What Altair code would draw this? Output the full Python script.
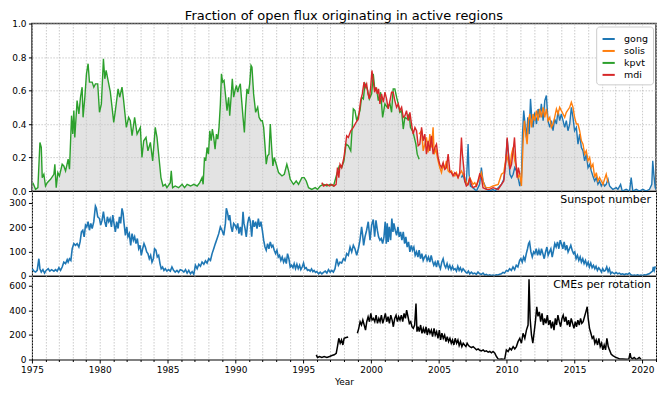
import altair as alt
import pandas as pd

# ---------------- data ----------------
SERIES = ["gong", "solis", "kpvt", "mdi"]
COLORS = ["#1f77b4", "#ff7f0e", "#2ca02c", "#d62728"]

kpvt = [(1975.07,0.05),(1975.27,0.01),(1975.44,0.02),(1975.59,0.29),(1975.69,0.26),(1975.76,0.08),(1975.88,0.10),(1976.00,0.03),(1976.13,0.05),(1976.37,0.07),(1976.62,0.10),(1976.69,0.16),(1976.79,0.02),(1976.91,0.11),(1977.03,0.09),(1977.23,0.16),(1977.35,0.15),(1977.48,0.12),(1977.67,0.19),(1977.77,0.13),(1977.92,0.45),(1978.01,0.34),(1978.09,0.48),(1978.16,0.32),(1978.33,0.54),(1978.46,0.46),(1978.58,0.56),(1978.70,0.62),(1978.77,0.44),(1978.90,0.56),(1979.02,0.70),(1979.14,0.76),(1979.24,0.65),(1979.44,0.65),(1979.56,0.62),(1979.68,0.64),(1979.85,0.64),(1979.98,0.47),(1980.12,0.52),(1980.27,0.79),(1980.37,0.67),(1980.47,0.72),(1980.59,0.67),(1980.78,0.59),(1981.03,0.41),(1981.15,0.48),(1981.35,0.61),(1981.47,0.56),(1981.64,0.62),(1981.76,0.54),(1981.96,0.38),(1982.13,0.44),(1982.25,0.42),(1982.38,0.33),(1982.57,0.44),(1982.75,0.34),(1982.99,0.38),(1983.11,0.20),(1983.24,0.30),(1983.41,0.32),(1983.55,0.24),(1983.73,0.29),(1983.90,0.18),(1984.09,0.38),(1984.22,0.32),(1984.34,0.22),(1984.51,0.08),(1984.66,0.03),(1984.83,0.04),(1984.95,0.02),(1985.20,0.05),(1985.27,0.12),(1985.37,0.02),(1985.56,0.03),(1985.81,0.02),
(1986.07,0.04),(1986.25,0.02),(1986.44,0.04),(1986.69,0.03),(1986.93,0.04),(1987.18,0.03),(1987.37,0.05),(1987.54,0.08),(1987.62,0.04),(1987.72,0.20),(1987.81,0.18),(1987.91,0.26),(1988.01,0.22),(1988.11,0.36),(1988.21,0.30),(1988.30,0.37),(1988.40,0.32),(1988.50,0.25),(1988.60,0.34),(1988.70,0.31),(1988.79,0.38),(1988.89,0.52),(1988.97,0.70),(1989.06,0.65),(1989.16,0.66),(1989.26,0.58),(1989.38,0.48),(1989.50,0.56),(1989.58,0.45),(1989.68,0.56),(1989.77,0.67),(1989.87,0.56),(1989.97,0.60),(1990.07,0.63),(1990.17,0.59),(1990.26,0.62),(1990.36,0.64),(1990.46,0.54),(1990.56,0.44),(1990.66,0.35),(1990.75,0.50),(1990.85,0.61),(1990.95,0.58),(1991.05,0.64),(1991.15,0.75),(1991.22,0.74),(1991.34,0.58),(1991.49,0.47),(1991.64,0.50),(1991.74,0.44),(1991.88,0.42),(1991.98,0.42),(1992.08,0.38),(1992.18,0.27),(1992.27,0.16),(1992.37,0.21),(1992.47,0.22),(1992.57,0.40),(1992.67,0.26),(1992.76,0.15),(1992.86,0.20),(1993.01,0.16),(1993.18,0.11),(1993.43,0.09),(1993.60,0.10),(1993.79,0.16),(1993.92,0.12),(1994.04,0.07),(1994.28,0.04),(1994.48,0.06),(1994.65,0.04),(1994.90,0.08),(1995.07,0.08),(1995.22,0.06),(1995.39,0.02),(1995.63,0.01),(1995.88,0.02),(1996.05,0.01),(1996.25,0.03),(1996.49,0.04),(1996.74,0.03),(1996.98,0.04),(1997.23,0.03),(1997.47,0.10),
(1997.66,0.15),(1997.83,0.14),(1998.00,0.18),(1998.15,0.28),(1998.32,0.27),(1998.50,0.24),(1998.69,0.49),(1998.81,0.48),(1998.94,0.42),(1999.18,0.48),(1999.30,0.56),(1999.43,0.55),(1999.55,0.64),(1999.72,0.61),(1999.87,0.55),(2000.04,0.58),(2000.16,0.70),(2000.28,0.60),(2000.41,0.61),(2000.53,0.54),(2000.70,0.59),(2000.85,0.44),(2001.02,0.52),(2001.19,0.50),(2001.39,0.52),(2001.51,0.47),(2001.63,0.61),(2001.75,0.61),(2001.88,0.56),(2002.00,0.52),(2002.12,0.47),(2002.25,0.48),(2002.37,0.37),(2002.49,0.44),(2002.66,0.43),(2002.81,0.46),(2002.90,0.38),(2003.10,0.35),(2003.30,0.28),(2003.40,0.22),(2003.54,0.19)]

mdi = [(1996.37,0.05),(1996.49,0.03),(1996.74,0.04),(1996.93,0.03),(1997.10,0.04),(1997.27,0.03),(1997.42,0.04),(1997.52,0.14),(1997.62,0.08),(1997.71,0.16),(1997.83,0.14),(1998.00,0.20),(1998.20,0.33),(1998.32,0.32),(1998.50,0.36),(1998.69,0.38),(1998.89,0.41),(1999.06,0.43),(1999.23,0.54),(1999.35,0.58),(1999.48,0.65),(1999.57,0.62),(1999.67,0.64),(1999.77,0.58),(1999.87,0.55),(1999.97,0.62),(2000.06,0.72),(2000.16,0.66),(2000.26,0.59),(2000.36,0.62),(2000.46,0.58),(2000.55,0.61),(2000.65,0.52),(2000.77,0.58),(2000.90,0.53),(2001.02,0.59),(2001.14,0.55),(2001.26,0.49),(2001.39,0.54),(2001.51,0.59),(2001.63,0.59),(2001.75,0.54),(2001.88,0.50),(2002.00,0.52),(2002.12,0.48),(2002.25,0.50),(2002.37,0.44),(2002.49,0.45),(2002.61,0.48),(2002.74,0.42),(2002.86,0.47),(2002.98,0.40),(2003.10,0.34),(2003.23,0.38),(2003.35,0.36),(2003.47,0.27),(2003.59,0.28),(2003.72,0.38),(2003.84,0.30),(2003.96,0.34),(2004.08,0.22),(2004.20,0.30),(2004.33,0.24),(2004.45,0.33),(2004.57,0.22),(2004.70,0.26),(2004.82,0.28),(2004.94,0.20),(2005.06,0.16),(2005.19,0.14),(2005.31,0.17),(2005.43,0.13),(2005.55,0.14),(2005.68,0.22),(2005.80,0.12),(2005.92,0.11),(2006.04,0.09),(2006.17,0.11),(2006.29,0.10),(2006.41,0.08),(2006.53,0.11),(2006.66,0.32),(2006.73,0.22),(2006.83,0.14),(2006.90,0.06),(2007.02,0.03),(2007.15,0.04),(2007.27,0.08),(2007.39,0.04),(2007.51,0.02),(2007.76,0.03),(2007.88,0.06),(2008.00,0.10),(2008.13,0.08),(2008.25,0.02),(2008.50,0.01),(2008.74,0.01),(2008.99,0.02),(2009.37,0.01),(2009.61,0.04),(2009.78,0.06),(2009.93,0.18),(2010.03,0.32),(2010.10,0.24),(2010.23,0.13),(2010.35,0.16),(2010.47,0.24),(2010.57,0.32),(2010.67,0.18),(2010.76,0.08),(2010.86,0.14),(2010.96,0.10)]

solis = [(2003.54,0.34),(2003.72,0.36),(2003.84,0.24),(2003.96,0.28),(2004.08,0.32),(2004.20,0.23),(2004.33,0.34),(2004.45,0.26),(2004.57,0.38),(2004.65,0.22),(2004.77,0.25),(2004.94,0.18),(2005.06,0.14),(2005.19,0.11),(2005.31,0.16),(2005.43,0.13),(2005.55,0.18),(2005.68,0.12),(2005.80,0.11),(2005.92,0.12),(2006.04,0.10),(2006.17,0.09),(2006.29,0.11),(2006.41,0.08),(2006.53,0.10),(2006.66,0.12),(2006.78,0.10),(2006.90,0.08),(2007.02,0.05),(2007.15,0.04),(2007.27,0.08),(2007.39,0.06),(2007.51,0.04),(2007.64,0.05),(2007.76,0.03),(2007.88,0.06),(2008.00,0.08),(2008.13,0.11),(2008.25,0.06),(2008.37,0.03),(2008.50,0.02),(2008.74,0.02),(2008.99,0.03),(2009.37,0.04),(2009.61,0.10),(2009.78,0.11),(2009.98,0.22),(2010.10,0.18),(2010.23,0.14),(2010.35,0.22),(2010.47,0.26),(2010.59,0.18),(2010.72,0.14),(2010.84,0.08),(2010.96,0.10),(2011.08,0.03),(2011.21,0.30),(2011.30,0.42),(2011.40,0.34),(2011.50,0.28),(2011.60,0.42),(2011.70,0.46),(2011.82,0.38),(2011.94,0.46),(2012.06,0.42),(2012.19,0.48),(2012.31,0.42),(2012.43,0.49),(2012.55,0.44),(2012.68,0.50),(2012.80,0.44),(2012.92,0.49),(2013.04,0.42),(2013.17,0.44),(2013.29,0.38),(2013.41,0.40),(2013.53,0.44),(2013.66,0.49),(2013.78,0.46),(2013.90,0.50),(2014.02,0.48),(2014.15,0.46),(2014.27,0.44),(2014.39,0.47),(2014.64,0.50),(2014.76,0.53),(2014.88,0.50),(2015.00,0.44),(2015.13,0.40),(2015.25,0.40),(2015.37,0.36),(2015.50,0.30),(2015.62,0.28),(2015.74,0.22),(2015.86,0.24),(2015.99,0.18),(2016.11,0.20),(2016.23,0.14),(2016.35,0.16),(2016.48,0.08),(2016.60,0.11),(2016.72,0.06),(2016.84,0.08),(2016.97,0.06),(2017.09,0.04),(2017.21,0.07),(2017.33,0.10),(2017.46,0.05)]

gong = [(2006.66,0.08),(2006.78,0.10),(2006.90,0.06),(2007.02,0.04),(2007.15,0.28),(2007.22,0.10),(2007.32,0.03),(2007.51,0.02),(2007.76,0.00),(2008.00,0.04),(2008.13,0.14),(2008.25,0.06),(2008.50,0.01),(2008.74,0.00),(2008.99,0.01),(2009.12,0.00),(2009.37,0.02),(2009.61,0.04),(2009.78,0.07),(2009.93,0.18),(2010.03,0.31),(2010.13,0.22),(2010.23,0.10),(2010.35,0.08),(2010.47,0.10),(2010.59,0.14),(2010.72,0.12),(2010.84,0.08),(2010.96,0.03),(2011.08,0.08),(2011.16,0.34),(2011.25,0.48),(2011.35,0.40),(2011.45,0.32),(2011.55,0.44),(2011.65,0.34),(2011.75,0.55),(2011.84,0.44),(2011.94,0.38),(2012.06,0.47),(2012.19,0.40),(2012.31,0.49),(2012.43,0.44),(2012.55,0.52),(2012.68,0.42),(2012.80,0.54),(2012.92,0.57),(2013.04,0.42),(2013.17,0.38),(2013.29,0.42),(2013.41,0.36),(2013.53,0.43),(2013.66,0.40),(2013.78,0.48),(2013.90,0.42),(2014.02,0.46),(2014.15,0.42),(2014.27,0.38),(2014.39,0.42),(2014.51,0.36),(2014.64,0.40),(2014.76,0.50),(2014.88,0.44),(2015.00,0.36),(2015.13,0.38),(2015.25,0.28),(2015.37,0.34),(2015.50,0.26),(2015.62,0.24),(2015.74,0.18),(2015.86,0.22),(2015.99,0.14),(2016.11,0.16),(2016.23,0.12),(2016.35,0.09),(2016.48,0.06),(2016.60,0.08),(2016.72,0.04),(2016.84,0.06),(2016.97,0.03),(2017.09,0.05),(2017.21,0.03),(2017.33,0.04),(2017.46,0.07),(2017.58,0.03),(2017.70,0.02),(2017.82,0.01),(2018.07,0.02),(2018.19,0.01),(2018.39,0.04),(2018.51,0.00),(2018.80,0.01),(2019.05,0.00),(2019.17,0.08),(2019.29,0.00),(2019.54,0.01),(2019.78,0.00),(2020.03,0.01),(2020.27,0.00),(2020.52,0.01),(2020.69,0.04),(2020.76,0.18),(2020.84,0.10),(2020.94,0.02),(2021.00,0.01)]

sunspot = [(1975.02,29),(1975.15,19),(1975.27,15),(1975.39,22),(1975.51,70),(1975.59,29),(1975.69,15),(1975.81,25),(1975.93,11),(1976.05,22),(1976.20,29),(1976.32,19),(1976.45,25),(1976.62,19),(1976.74,25),(1976.86,19),(1976.99,33),(1977.11,22),(1977.23,36),(1977.35,56),(1977.48,50),(1977.60,66),(1977.67,56),(1977.77,70),(1977.87,63),(1977.97,111),(1978.09,132),(1978.21,125),(1978.33,132),(1978.46,118),(1978.55,139),(1978.65,180),(1978.75,187),(1978.85,160),(1978.95,208),(1979.04,201),(1979.14,222),(1979.24,187),(1979.34,215),(1979.44,194),(1979.56,222),(1979.68,286),(1979.75,277),(1979.85,242),(1979.98,235),(1980.07,208),(1980.17,228),(1980.27,263),(1980.37,222),(1980.47,201),(1980.56,242),(1980.66,222),(1980.76,235),(1980.86,201),(1980.96,249),(1981.05,215),(1981.15,180),(1981.25,222),(1981.35,194),(1981.45,242),(1981.54,215),(1981.64,277),(1981.72,256),(1981.79,215),(1981.89,166),(1981.99,201),(1982.08,160),(1982.18,173),(1982.28,125),(1982.38,173),(1982.48,146),(1982.57,160),(1982.67,132),(1982.77,153),(1982.87,111),(1982.97,125),(1983.06,84),(1983.16,111),(1983.26,132),(1983.36,118),(1983.46,98),(1983.55,91),(1983.65,70),(1983.75,84),(1983.85,56),(1983.95,70),(1984.04,111),(1984.14,105),(1984.24,77),(1984.34,84),(1984.44,50),(1984.53,29),(1984.63,36),(1984.73,22),(1984.83,29),(1984.95,19),(1985.07,25),(1985.20,19),(1985.32,36),(1985.44,22),(1985.56,15),(1985.69,22),(1985.81,14),(1985.93,25),
(1986.07,22),(1986.20,15),(1986.32,25),(1986.44,11),(1986.56,22),(1986.69,8),(1986.81,17),(1986.93,6),(1987.05,43),(1987.18,29),(1987.30,47),(1987.42,39),(1987.54,56),(1987.67,47),(1987.79,61),(1987.91,52),(1988.03,70),(1988.16,63),(1988.28,91),(1988.40,111),(1988.52,132),(1988.65,153),(1988.77,173),(1988.89,201),(1989.01,187),(1989.14,166),(1989.26,215),(1989.33,277),(1989.43,256),(1989.50,228),(1989.58,249),(1989.68,201),(1989.77,180),(1989.87,215),(1989.97,208),(1990.07,194),(1990.17,215),(1990.26,173),(1990.36,201),(1990.46,166),(1990.56,263),(1990.63,215),(1990.71,194),(1990.80,160),(1990.90,215),(1991.00,242),(1991.10,222),(1991.20,160),(1991.29,228),(1991.39,201),(1991.49,222),(1991.59,194),(1991.69,235),(1991.78,201),(1991.88,222),(1991.98,187),(1992.08,146),(1992.18,118),(1992.27,105),(1992.37,132),(1992.47,111),(1992.57,139),(1992.67,118),(1992.76,125),(1992.86,105),(1992.96,91),(1993.06,105),(1993.16,77),(1993.25,84),(1993.35,63),(1993.45,77),(1993.55,56),(1993.65,70),(1993.75,50),(1993.84,91),(1993.94,70),(1994.04,36),(1994.14,43),(1994.24,33),(1994.33,50),(1994.43,29),(1994.53,47),(1994.63,29),(1994.73,43),(1994.82,25),(1994.92,36),(1995.02,52),(1995.12,29),(1995.22,33),(1995.31,22),(1995.41,25),(1995.51,19),(1995.61,28),(1995.71,17),(1995.80,22),(1995.90,14),(1996.00,17),(1996.13,8),(1996.25,15),(1996.37,8),(1996.49,14),(1996.62,19),(1996.74,11),(1996.86,25),(1996.98,15),
(1997.10,22),(1997.22,15),(1997.34,29),(1997.47,70),(1997.59,43),(1997.71,56),(1997.83,52),(1997.96,70),(1998.08,63),(1998.20,91),(1998.32,84),(1998.45,118),(1998.57,98),(1998.69,125),(1998.81,111),(1998.94,84),(1999.06,111),(1999.18,146),(1999.30,201),(1999.38,166),(1999.45,125),(1999.55,160),(1999.67,187),(1999.79,222),(1999.92,146),(2000.04,208),(2000.16,231),(2000.26,160),(2000.36,228),(2000.46,187),(2000.55,160),(2000.65,146),(2000.75,153),(2000.85,132),(2000.95,160),(2001.04,222),(2001.12,132),(2001.19,215),(2001.26,139),(2001.34,201),(2001.44,146),(2001.53,235),(2001.61,180),(2001.68,215),(2001.78,187),(2001.88,166),(2001.98,201),(2002.07,160),(2002.17,180),(2002.27,146),(2002.37,180),(2002.47,132),(2002.56,160),(2002.66,118),(2002.76,139),(2002.86,98),(2002.96,125),(2003.05,105),(2003.15,118),(2003.25,84),(2003.35,98),(2003.45,77),(2003.54,105),(2003.64,70),(2003.74,91),(2003.84,63),(2003.94,77),(2004.03,84),(2004.13,63),(2004.23,77),(2004.33,56),(2004.43,84),(2004.52,61),(2004.62,43),(2004.72,56),(2004.82,36),(2004.92,63),(2005.01,43),(2005.11,29),(2005.21,56),(2005.31,70),(2005.41,43),(2005.50,33),(2005.60,50),(2005.70,29),(2005.80,43),(2005.90,25),(2006.00,39),(2006.09,25),(2006.19,29),(2006.29,19),(2006.39,39),(2006.49,22),(2006.58,33),(2006.68,18),(2006.78,29),(2006.88,22),(2006.98,15),(2007.07,11),(2007.17,19),(2007.27,8),(2007.39,15),(2007.51,8),(2007.64,11),(2007.76,6),(2007.88,15),(2008.00,8),(2008.13,6),(2008.25,11),(2008.37,3),(2008.50,6),(2008.62,1),(2008.74,4),(2008.86,1),(2008.99,3),(2009.11,1),(2009.23,4),(2009.35,3),(2009.48,6),(2009.60,8),(2009.72,14),(2009.84,11),(2009.97,22),(2010.09,19),(2010.21,29),(2010.34,22),(2010.46,36),(2010.58,25),(2010.70,43),(2010.82,36),(2010.95,63),(2011.04,70),(2011.14,56),(2011.24,77),(2011.34,63),(2011.44,91),(2011.53,111),(2011.61,132),(2011.68,139),(2011.78,98),(2011.88,77),(2011.98,98),(2012.07,91),(2012.17,111),(2012.27,84),(2012.37,105),(2012.47,84),(2012.56,111),(2012.66,91),(2012.76,70),(2012.86,98),(2012.96,118),(2013.05,84),(2013.15,98),(2013.25,111),(2013.35,77),(2013.45,105),(2013.54,132),(2013.64,118),(2013.74,139),(2013.84,111),(2013.94,146),(2014.03,132),(2014.13,111),(2014.23,139),(2014.33,105),(2014.43,125),(2014.52,98),(2014.62,111),(2014.72,125),(2014.82,105),(2014.92,91),(2015.01,98),(2015.11,70),(2015.21,84),(2015.31,63),(2015.41,77),(2015.50,56),(2015.60,70),(2015.70,50),(2015.80,63),(2015.90,43),(2016.00,56),(2016.09,36),(2016.19,52),(2016.29,33),(2016.39,43),(2016.49,29),(2016.58,39),(2016.68,22),(2016.78,33),(2016.88,25),(2016.98,15),(2017.07,29),(2017.17,19),(2017.27,22),(2017.37,36),(2017.47,17),(2017.56,29),(2017.66,8),(2017.76,15),(2017.86,11),(2017.96,8),(2018.05,14),(2018.18,8),(2018.30,11),(2018.42,6),(2018.54,8),(2018.67,4),(2018.79,8),(2018.91,6),(2019.03,11),(2019.15,4),(2019.28,1),(2019.40,3),(2019.52,1),(2019.64,4),(2019.77,1),(2019.89,3),(2020.01,1),(2020.14,4),(2020.26,3),(2020.38,6),(2020.50,8),(2020.63,14),(2020.75,19),(2020.80,36),(2020.87,22),(2020.95,39)]

cme_1996 = [(1995.96,38),(1996.05,16),(1996.20,24),(1996.37,16),(1996.54,24),(1996.74,16),(1996.94,24),(1997.11,32),(1997.28,38),(1997.43,51),(1997.52,105),(1997.62,172),(1997.72,132),(1997.82,159),(1997.92,118),(1998.01,172),(1998.16,178),(1998.31,183)]
cme_1999 = [(1998.99,213),(1999.09,253),(1999.19,307),(1999.29,280),(1999.39,320),(1999.49,280),(1999.59,239),(1999.68,307),(1999.78,347),(1999.88,307),(1999.98,374),(2000.07,320),(2000.17,334),(2000.27,307),(2000.37,360),(2000.47,293),(2000.57,334),(2000.66,307),(2000.76,360),(2000.86,293),(2000.96,334),(2001.05,374),(2001.15,307),(2001.25,347),(2001.35,293),(2001.45,360),(2001.55,320),(2001.64,266),(2001.74,334),(2001.84,360),(2001.94,307),(2002.03,347),(2002.13,320),(2002.23,360),(2002.33,307),(2002.43,374),(2002.53,334),(2002.62,401),(2002.72,347),(2002.82,293),(2002.92,307),(2003.01,266),(2003.11,253),(2003.21,280),(2003.31,455),(2003.38,226),(2003.46,266),(2003.55,226),(2003.65,280),(2003.75,213),(2003.85,253),(2003.95,213),(2004.05,266),(2004.14,199),(2004.24,253),(2004.34,213),(2004.44,239),(2004.53,186),(2004.64,253),(2004.73,199),(2004.83,226),(2004.93,172),(2005.03,239),(2005.12,159),(2005.22,213),(2005.32,172),(2005.42,199),(2005.52,145),(2005.61,186),(2005.71,145),(2005.81,172),(2005.91,132),(2006.00,159),(2006.10,118),(2006.20,172),(2006.30,132),(2006.40,159),(2006.49,113),(2006.59,145),(2006.69,105),(2006.79,132),(2006.89,118),(2006.99,105),(2007.08,132),(2007.18,113),(2007.28,105),(2007.40,97),(2007.52,105),(2007.65,91),(2007.77,78),(2007.89,86),(2008.01,75),(2008.13,70),(2008.26,78),(2008.38,65),(2008.50,70),(2008.63,59),(2008.75,65),(2008.87,54),(2008.99,65),(2009.12,51),(2009.24,24),(2009.36,5),(2009.48,3),(2009.61,5),(2009.73,3),(2009.85,5),(2009.97,78),(2010.10,65),(2010.22,91),(2010.34,78),(2010.47,105),(2010.59,86),(2010.71,105),(2010.83,145),(2010.96,172),(2011.08,132),(2011.20,213),(2011.33,172),(2011.45,239),(2011.57,280),(2011.64,651),(2011.72,334),(2011.82,199),(2011.92,132),(2012.01,213),(2012.11,307),(2012.21,428),(2012.30,350),(2012.40,387),(2012.50,307),(2012.60,374),(2012.70,280),(2012.79,334),(2012.89,293),(2012.99,360),(2013.09,280),(2013.19,320),(2013.28,253),(2013.38,307),(2013.48,239),(2013.58,334),(2013.67,280),(2013.77,360),(2013.87,307),(2013.97,266),(2014.07,334),(2014.16,360),(2014.26,307),(2014.36,347),(2014.46,280),(2014.56,320),(2014.65,266),(2014.75,334),(2014.85,293),(2014.95,253),(2015.05,307),(2015.14,266),(2015.24,320),(2015.34,280),(2015.44,334),(2015.53,293),(2015.63,307),(2015.73,347),(2015.83,387),(2015.93,428),(2016.00,334),(2016.10,253),(2016.20,213),(2016.30,172),(2016.40,186),(2016.49,132),(2016.59,159),(2016.69,118),(2016.79,172),(2016.89,105),(2016.99,132),(2017.08,78),(2017.18,118),(2017.28,78),(2017.38,172),(2017.48,105),(2017.57,78),(2017.70,43),(2017.82,32),(2017.94,24),(2018.06,16),(2018.19,11),(2018.31,5),(2018.55,5),(2018.80,3),(2019.00,5),(2019.09,51),(2019.15,16),(2019.27,5),(2019.39,16),(2019.52,3),(2019.64,5),(2019.76,16),(2019.89,3)]

TITLE = "Fraction of open flux originating in active regions"
SUNSPOT_LABEL = "Sunspot number"
CME_LABEL = "CMEs per rotation"
TOP_TICKS = [0.0, 0.2, 0.4, 0.6, 0.8, 1.0]
MID_TICKS = [0, 100, 200, 300]
BOT_TICKS = [0, 200, 400, 600]
X_DOMAIN = [1975, 2021]
YEAR_GRID = list(range(1975, 2022))

# ---------------- tables ----------------
def table(pairs, name):
    return pd.DataFrame({"year": [p[0] for p in pairs], "value": [p[1] for p in pairs], "series": name})

series_tables = {"gong": table(gong, "gong"), "solis": table(solis, "solis"),
                 "kpvt": table(kpvt, "kpvt"), "mdi": table(mdi, "mdi")}
top_df = pd.concat([series_tables[s] for s in SERIES], ignore_index=True)

# grey envelope: kpvt, then mdi, then gong
k = series_tables["kpvt"]; m = series_tables["mdi"]; g = series_tables["gong"]
fill_df = pd.concat([k[k.year < 1996.37], m[m.year < 2011.0], g[g.year >= 2011.0]], ignore_index=True)

ssn_df = table(sunspot, "ssn")
cme_df = pd.concat([table(cme_1996, "a"), table(cme_1999, "b")], ignore_index=True)

# ---------------- styling ----------------
FONT = "DejaVu Sans"
W = 626
H_TOP, H_MID, H_BOT = 168, 85, 84
GRID_COLOR = "#bdbdbd"
xscale = alt.Scale(domain=X_DOMAIN, nice=False, zero=False)


def x_enc(show):
    kw = dict(values=YEAR_GRID, format="d", grid=True, gridColor=GRID_COLOR,
              gridDash=[1.5, 1.5], gridWidth=0.8, domain=False)
    if show:
        kw.update(labels=True, ticks=True, labelFont=FONT, labelFontSize=9, labelColor="black",
                  labelExpr="datum.value % 5 === 0 ? datum.label : ''",
                  tickSize={"condition": {"test": "datum.value % 5 === 0", "value": 3.5}, "value": 2},
                  tickColor="black", labelPadding=3, labelFlush=False, labelOverlap=False,
                  title="Year", titleFont=FONT, titleFontSize=9, titleFontWeight="normal",
                  titleColor="black", titlePadding=3)
    else:
        kw.update(labels=False, ticks=False, title=None, maxExtent=0, minExtent=0)
    return alt.X("year:Q", scale=xscale, axis=alt.Axis(**kw))


def y_enc(domain, ticks, fmt, grid):
    kw = dict(values=ticks, format=fmt, grid=grid, domain=False, title=None,
              labelFont=FONT, labelFontSize=9, labelColor="black", tickColor="black",
              tickSize=3.5, labelPadding=2.5)
    if grid:
        kw.update(gridColor=GRID_COLOR, gridDash=[1.5, 1.5], gridWidth=0.8)
    return alt.Y("value:Q", scale=alt.Scale(domain=domain, nice=False, zero=True), axis=alt.Axis(**kw))


# ---------------- top panel ----------------
fill = alt.Chart(fill_df).mark_area(color="#c8c8c8", opacity=0.5, clip=True).encode(
    x=x_enc(False), y=y_enc([0, 1], TOP_TICKS, ".1f", True))
lines = alt.Chart(top_df).mark_line(strokeWidth=1.4, clip=True).encode(
    x=x_enc(False), y=y_enc([0, 1], TOP_TICKS, ".1f", True),
    color=alt.Color("series:N", scale=alt.Scale(domain=SERIES, range=COLORS), sort=SERIES,
                    legend=alt.Legend(orient="top-right", title=None, symbolType="stroke",
                                      symbolStrokeWidth=2, symbolSize=150, labelFont=FONT,
                                      labelFontSize=9.5, labelColor="black", strokeColor="#cccccc",
                                      fillColor="white", padding=5, cornerRadius=3, offset=3,
                                      rowPadding=0, labelOffset=8)))
top = alt.layer(fill, lines).properties(
    width=W, height=H_TOP,
    title=alt.TitleParams(TITLE, font=FONT, fontSize=13, fontWeight="normal", color="black",
                          anchor="middle", frame="group", offset=-3),
    view=alt.ViewBackground(stroke="#444444", strokeWidth=1.6))

# ---------------- middle panel ----------------
ssn_line = alt.Chart(ssn_df).mark_line(color="#1f77b4", strokeWidth=1.6, clip=True).encode(
    x=x_enc(False), y=y_enc([0, 348], MID_TICKS, "d", False))
ssn_text = alt.Chart(pd.DataFrame({"label": [SUNSPOT_LABEL]})).mark_text(
    align="right", baseline="middle", font=FONT, fontSize=11, color="black").encode(
    x=alt.value(W - 5), y=alt.value(9), text="label:N")
mid = alt.layer(ssn_line, ssn_text).properties(
    width=W, height=H_MID, view=alt.ViewBackground(stroke="black", strokeWidth=1))

# ---------------- bottom panel ----------------
cme_line = alt.Chart(cme_df).mark_line(color="black", strokeWidth=1.5, clip=True).encode(
    x=x_enc(True), y=y_enc([0, 680], BOT_TICKS, "d", False), detail="series:N")
cme_text = alt.Chart(pd.DataFrame({"label": [CME_LABEL]})).mark_text(
    align="right", baseline="middle", font=FONT, fontSize=11, color="black").encode(
    x=alt.value(W - 5), y=alt.value(9), text="label:N")
bot = alt.layer(cme_line, cme_text).properties(
    width=W, height=H_BOT, view=alt.ViewBackground(stroke="black", strokeWidth=1))

chart = alt.vconcat(top, mid, bot, spacing=0, bounds="flush").resolve_scale(
    color="independent").resolve_legend(color="independent").properties(
    padding={"left": 0, "top": 0, "right": 0, "bottom": 0}, background="white"
).configure_view(stroke="black")

chart.save("out.html", embed_options={"renderer": "svg", "actions": False})
